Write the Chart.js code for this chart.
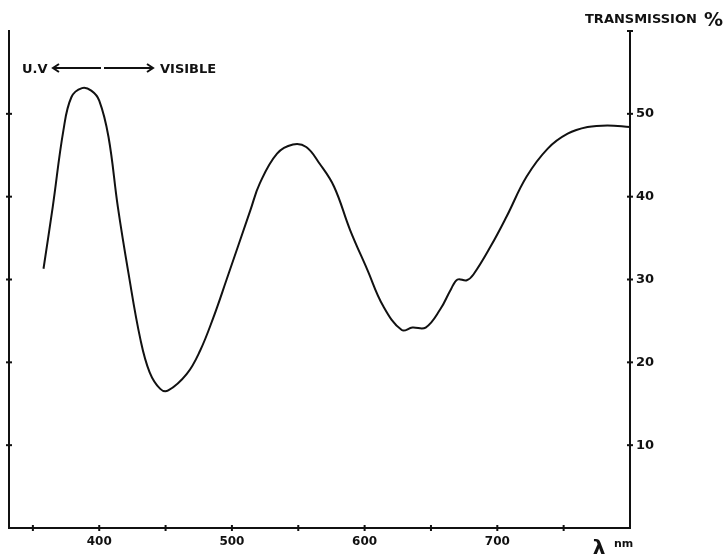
<!DOCTYPE html>
<html lang="en">
<head>
    <meta charset="UTF-8">
    <title>Transmission spectrum</title>
    <script src="https://cdn.jsdelivr.net/npm/chart.js"></script>
    <style>
        body {
            margin: 0;
            padding: 0;
            background: #ffffff;
        }
        canvas {
            display: block;
        }
    </style>
</head>
<body>
    <canvas id="spectrum" width="728" height="555"></canvas>

    <script>
        // Values
        const wavelengths = [358, 365, 373, 379, 387, 394, 400, 407, 414, 422, 431, 438, 446, 452, 466, 476,
            486, 496, 514, 521, 534, 546, 556, 566, 577, 589, 602, 614, 628, 636, 646, 657, 665, 670, 677, 682,
            695, 707, 722, 738, 753, 768, 783, 800];
        const transmission = [31.3, 38.8, 48.0, 52.0, 53.1, 52.8, 51.6, 47.2, 38.8, 30.8, 22.8, 18.8, 16.8, 16.6,
            18.6, 21.4, 25.4, 30.0, 38.4, 41.6, 45.2, 46.3, 46.0, 44.0, 41.2, 36.0, 31.2, 26.8, 23.9, 24.2, 24.2,
            26.4, 28.8, 30.0, 29.9, 30.6, 34.0, 37.6, 42.4, 45.8, 47.6, 48.4, 48.6, 48.4];
        const xLabels = [400, 500, 600, 700];
        const yLabels = [10, 20, 30, 40, 50];

        const ink = '#111111';
        const fontFamily = '"DejaVu Sans", "Liberation Sans", sans-serif';

        // small tick marks that cross the axis lines
        const crossTicks = {
            id: 'crossTicks',
            afterDraw(chart) {
                const ctx = chart.ctx;
                const area = chart.chartArea;
                ctx.save();
                ctx.strokeStyle = ink;
                ctx.lineWidth = 2;
                chart.scales.x.ticks.forEach(t => {
                    if (t.value >= 800) return;
                    const px = chart.scales.x.getPixelForValue(t.value);
                    ctx.beginPath();
                    ctx.moveTo(px, area.bottom - 3);
                    ctx.lineTo(px, area.bottom + 3);
                    ctx.stroke();
                });
                ['yLeft', 'y'].forEach(id => {
                    const s = chart.scales[id];
                    const ax = id === 'y' ? area.right : area.left;
                    s.ticks.forEach(t => {
                        if (t.value <= 0 || t.value >= 60) return;
                        const py = s.getPixelForValue(t.value);
                        ctx.beginPath();
                        ctx.moveTo(ax - 3, py);
                        ctx.lineTo(ax + 3, py);
                        ctx.stroke();
                    });
                });
                // cap at top of the right axis
                ctx.beginPath();
                ctx.moveTo(area.right - 3, area.top);
                ctx.lineTo(area.right + 3, area.top);
                ctx.stroke();
                ctx.restore();
            }
        };

        // captions: axis title, UV / visible arrow, wavelength unit
        const captions = {
            id: 'captions',
            afterDraw(chart) {
                const ctx = chart.ctx;
                ctx.save();
                ctx.fillStyle = ink;
                ctx.strokeStyle = ink;
                ctx.textBaseline = 'alphabetic';
                ctx.textAlign = 'left';

                ctx.font = 'bold 13px ' + fontFamily;
                ctx.fillText('TRANSMISSION', 585, 23);
                ctx.font = 'bold 19px ' + fontFamily;
                ctx.fillText('%', 704, 26);

                ctx.font = 'bold 13px ' + fontFamily;
                ctx.fillText('U.V', 22, 73);
                ctx.fillText('VISIBLE', 160, 73);

                ctx.lineWidth = 2;
                ctx.beginPath();
                ctx.moveTo(53, 68);
                ctx.lineTo(101, 68);
                ctx.moveTo(104, 68);
                ctx.lineTo(153, 68);
                ctx.stroke();
                ctx.beginPath();
                ctx.moveTo(59, 64);
                ctx.lineTo(53, 68);
                ctx.lineTo(59, 72);
                ctx.moveTo(147, 64);
                ctx.lineTo(153, 68);
                ctx.lineTo(147, 72);
                ctx.stroke();

                ctx.font = 'bold 20px ' + fontFamily;
                ctx.textAlign = 'center';
                ctx.fillText('λ', 599, 554);
                ctx.font = 'bold 11px ' + fontFamily;
                ctx.textAlign = 'left';
                ctx.fillText('nm', 614, 547);
                ctx.restore();
            }
        };

        const ctx = document.getElementById('spectrum').getContext('2d');
        new Chart(ctx, {
            type: 'line',
            data: {
                datasets: [{
                    data: wavelengths.map((w, i) => ({ x: w, y: transmission[i] })),
                    borderColor: ink,
                    borderWidth: 2,
                    pointRadius: 0,
                    tension: 0.4,
                    fill: false,
                    yAxisID: 'y'
                }]
            },
            options: {
                responsive: false,
                animation: false,
                layout: { padding: { top: 31, left: 0, right: 0, bottom: 0 } },
                plugins: {
                    legend: { display: false },
                    tooltip: { enabled: false }
                },
                scales: {
                    x: {
                        type: 'linear',
                        min: 332,
                        max: 800,
                        grid: { display: false, drawTicks: false },
                        border: { display: true, color: ink, width: 2 },
                        ticks: {
                            stepSize: 50,
                            includeBounds: false,
                            autoSkip: false,
                            maxRotation: 0,
                            padding: 7,
                            color: ink,
                            font: { family: fontFamily, size: 12, weight: 'bold' },
                            callback: v => xLabels.includes(v) ? String(v) : ''
                        },
                        afterFit: s => { s.height = 27; }
                    },
                    yLeft: {
                        position: 'left',
                        min: 0,
                        max: 60,
                        grid: { display: false, drawTicks: false },
                        border: { display: true, color: ink, width: 2 },
                        ticks: { stepSize: 10, display: false },
                        afterFit: s => { s.width = 9; }
                    },
                    y: {
                        position: 'right',
                        min: 0,
                        max: 60,
                        grid: { display: false, drawTicks: false },
                        border: { display: true, color: ink, width: 2 },
                        ticks: {
                            stepSize: 10,
                            padding: 6,
                            color: ink,
                            font: { family: fontFamily, size: 13, weight: 'bold' },
                            callback: v => yLabels.includes(v) ? String(v) : ''
                        },
                        afterFit: s => { s.width = 98; }
                    }
                }
            },
            plugins: [crossTicks, captions]
        });
    </script>
</body>
</html>
